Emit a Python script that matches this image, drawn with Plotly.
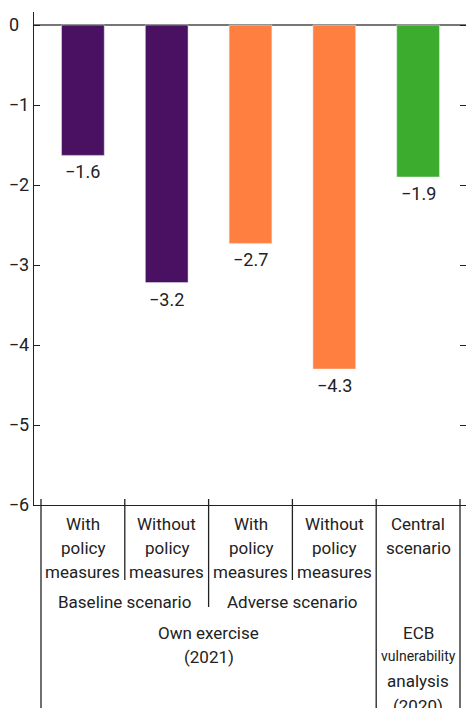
import plotly.graph_objects as go

categories = ["With policy measures (baseline)", "Without policy measures (baseline)",
              "With policy measures (adverse)", "Without policy measures (adverse)",
              "Central scenario (ECB)"]
values = [-1.63, -3.22, -2.73, -4.30, -1.90]
colors = ["#4A1163", "#4A1163", "#FF7F40", "#FF7F40", "#3CAC2E"]
level1 = [["With", "policy", "measures"], ["Without", "policy", "measures"],
          ["With", "policy", "measures"], ["Without", "policy", "measures"],
          ["Central", "scenario"]]
level2 = [("Baseline scenario", 0.5), ("Adverse scenario", 2.5)]
level3_own = ["Own exercise", "(2021)"]
ecb_lines = ["ECB", "vulnerability", "analysis", "(2020)"]
ytick_vals = [0, -1, -2, -3, -4, -5, -6]
ytick_text = ["0\u2007", "\u22121", "\u22122", "\u22123", "\u22124", "\u22125", "\u22126"]

FONT = "Roboto, sans-serif"
W, H = 466, 708
L, R, T, B = 34, 0, 12, 203
plot_h = H - T - B

def py(p):
    return (H - B - p) / plot_h

fig = go.Figure()
fig.add_trace(go.Bar(
    x=list(range(len(values))), y=values, marker_color=colors, width=0.51,
    showlegend=False, hoverinfo="skip"))
# invisible trace for right axis ticks
fig.add_trace(go.Scatter(x=[0], y=[0], yaxis="y2", mode="markers",
                         marker=dict(opacity=0), showlegend=False, hoverinfo="skip"))

# value labels below bar ends
for i, v in enumerate(values):
    fig.add_annotation(x=i, y=v, xref="x", yref="y", showarrow=False,
                       text=f"{v:.1f}".replace("-", "\u2212"),
                       yanchor="top", xanchor="center", yshift=-4,
                       font=dict(size=18, family=FONT, color="#222"))

xr0 = -0.5 - 7 / 83.8
xr1 = 4.5 + 6 / 83.8
fig.update_layout(
    width=W, height=H, margin=dict(l=L, r=R, t=T, b=B, autoexpand=False),
    plot_bgcolor="white", paper_bgcolor="white",
    font=dict(family=FONT, size=17, color="#222"),
    xaxis=dict(range=[xr0, xr1], showticklabels=False, ticks="", showgrid=False,
               zeroline=False, showline=True, linecolor="#222", linewidth=1.3,
               mirror=False, automargin=False),
    yaxis=dict(range=[-6, 0.1625], tickvals=ytick_vals, ticktext=ytick_text,
               ticks="inside", ticklen=6,
               tickcolor="#222", showline=True, linecolor="#222", linewidth=1.3,
               showgrid=False, zeroline=True, zerolinecolor="#777", zerolinewidth=1.5,
               automargin=False,
               tickfont=dict(size=18, family=FONT, color="#222")),
    yaxis2=dict(range=[-6, 0.1625], overlaying="y", side="right", tickvals=ytick_vals,
                ticks="inside", ticklen=6, tickcolor="#222", showticklabels=False,
                showline=False, showgrid=False, zeroline=False, automargin=False),
    bargap=0.49,
)

# category box dividers
def vline(x, p0, p1):
    fig.add_shape(type="line", xref="x", yref="paper", x0=x, x1=x,
                  y0=py(p0), y1=py(p1), line=dict(color="#222", width=1.3))

vline(-0.5, 499, 708)
vline(0.5, 499, 580)
vline(1.5, 499, 607)
vline(2.5, 499, 580)
vline(3.5, 499, 708)
vline(4.5, 499, 708)

def ann(text, x, center, size=17):
    fig.add_annotation(text=text, x=x, xref="x", y=py(center - 12), yref="paper",
                       showarrow=False, yanchor="top", xanchor="center",
                       font=dict(size=size, family=FONT, color="#222"))

line_centers = [524, 548, 572]
for i, lines in enumerate(level1):
    for t, c in zip(lines, line_centers):
        ann(t, i, c)
for t, x in level2:
    ann(t, x, 602)
for t, c in zip(level3_own, [633, 657]):
    ann(t, 1.5, c)
for t, c in zip(ecb_lines, [633, 658, 681, 706]):
    ann(t, 4, c, size=14 if t == "vulnerability" else 17)

fig.write_html("out.html", post_script="document.body.style.margin='0';",
               config={"displayModeBar": False})
